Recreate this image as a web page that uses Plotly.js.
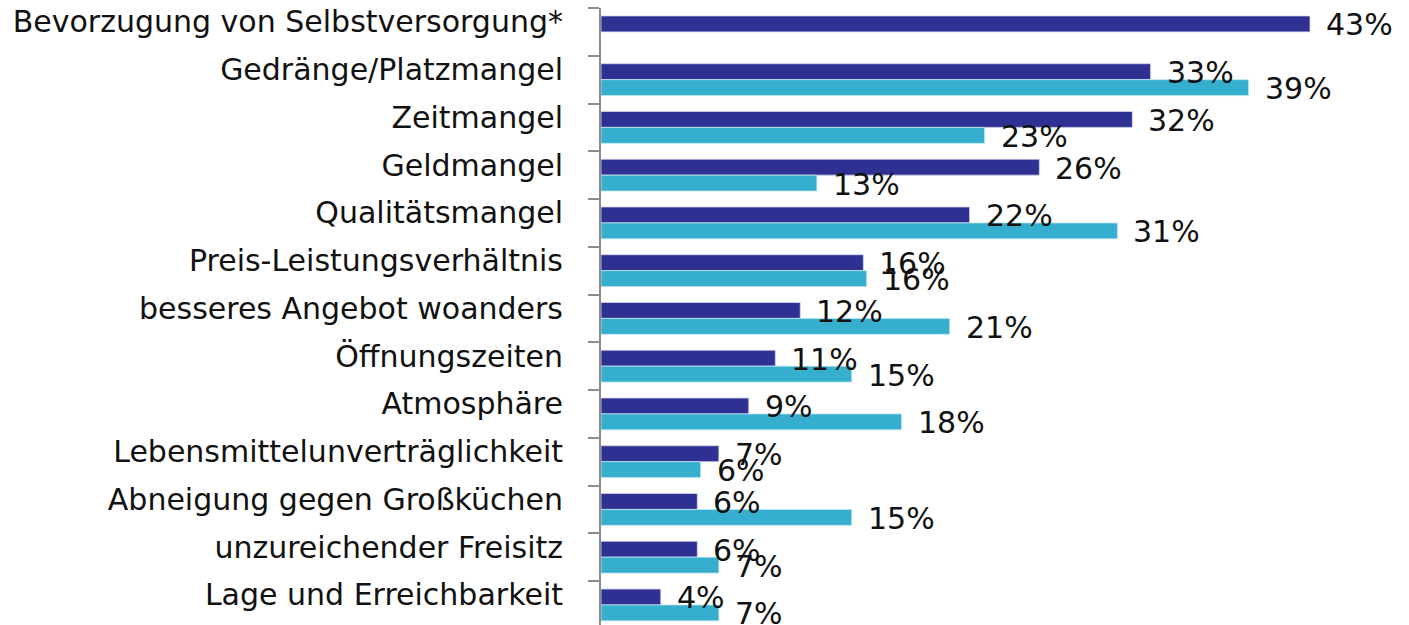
<!DOCTYPE html>
<html>
<head>
<meta charset="utf-8">
<script src="https://cdn.plot.ly/plotly-3.0.1.min.js"></script>
<style>html,body{margin:0;padding:0;background:#fff;}#chart{width:1409px;height:625px;}</style>
</head>
<body>
<div id="chart"></div>
<script>
const categories = [
  "Bevorzugung von Selbstversorgung*",
  "Gedränge/Platzmangel",
  "Zeitmangel",
  "Geldmangel",
  "Qualitätsmangel",
  "Preis-Leistungsverhältnis",
  "besseres Angebot woanders",
  "Öffnungszeiten",
  "Atmosphäre",
  "Lebensmittelunverträglichkeit",
  "Abneigung gegen Großküchen",
  "unzureichender Freisitz",
  "Lage und Erreichbarkeit"
];
const seriesDark  = [42.7, 33.1, 32.0, 26.4, 22.2, 15.8, 12.0, 10.5, 8.9, 7.1, 5.8, 5.8, 3.6];
const seriesLight = [null, 39.0, 23.1, 13.0, 31.1, 16.0, 21.0, 15.1, 18.1, 6.0, 15.1, 7.1, 7.1];

const FONT = "'DejaVu Sans', sans-serif";
const DARK = "#2E3192";
const LIGHT = "#36AFCF";

function pct(v){ return v == null ? "" : Math.round(v) + "%"; }

const traces = [
  {type:"bar", orientation:"h", y:categories, x:seriesDark, name:"A",
   marker:{color:DARK, line:{color:"#d6d6ee", width:0.8}}, hoverinfo:"x+y"},
  {type:"bar", orientation:"h", y:categories, x:seriesLight, name:"B",
   marker:{color:LIGHT, line:{color:"#bfe6f2", width:0.8}}, hoverinfo:"x+y"}
];

const annotations = [];
categories.forEach((c,i)=>{
  if(seriesDark[i]!=null) annotations.push({x:seriesDark[i], y:c, xref:"x", yref:"y", text:pct(seriesDark[i]),
    showarrow:false, xanchor:"left", yanchor:"middle", xshift:14, yshift:7, font:{family:FONT,size:30,color:"#111"}});
  if(seriesLight[i]!=null) annotations.push({x:seriesLight[i], y:c, xref:"x", yref:"y", text:pct(seriesLight[i]),
    showarrow:false, xanchor:"left", yanchor:"middle", xshift:14, yshift:-9, font:{family:FONT,size:30,color:"#111"}});
});

const layout = {
  width:1409, height:625,
  margin:{l:601, r:11, t:8, b:0, pad:0},
  paper_bgcolor:"#fff", plot_bgcolor:"#fff",
  barmode:"group", bargap:0.333, bargroupgap:0,
  showlegend:false,
  font:{family:FONT, size:30, color:"#111"},
  xaxis:{range:[0,48], visible:false, fixedrange:true},
  yaxis:{type:"category", range:[12.42, -0.5], showline:true, linecolor:"#8c8c8c", linewidth:2,
    ticks:"outside", ticklen:11, tickcolor:"#8c8c8c", tickwidth:2, tickson:"boundaries",
    showgrid:false, zeroline:false, ticklabelstandoff:30, ticklabelshift:10,
    tickfont:{family:FONT, size:30, color:"#111"}},
  annotations:annotations
};

Plotly.newPlot("chart", traces, layout, {staticPlot:true});
</script>
</body>
</html>
